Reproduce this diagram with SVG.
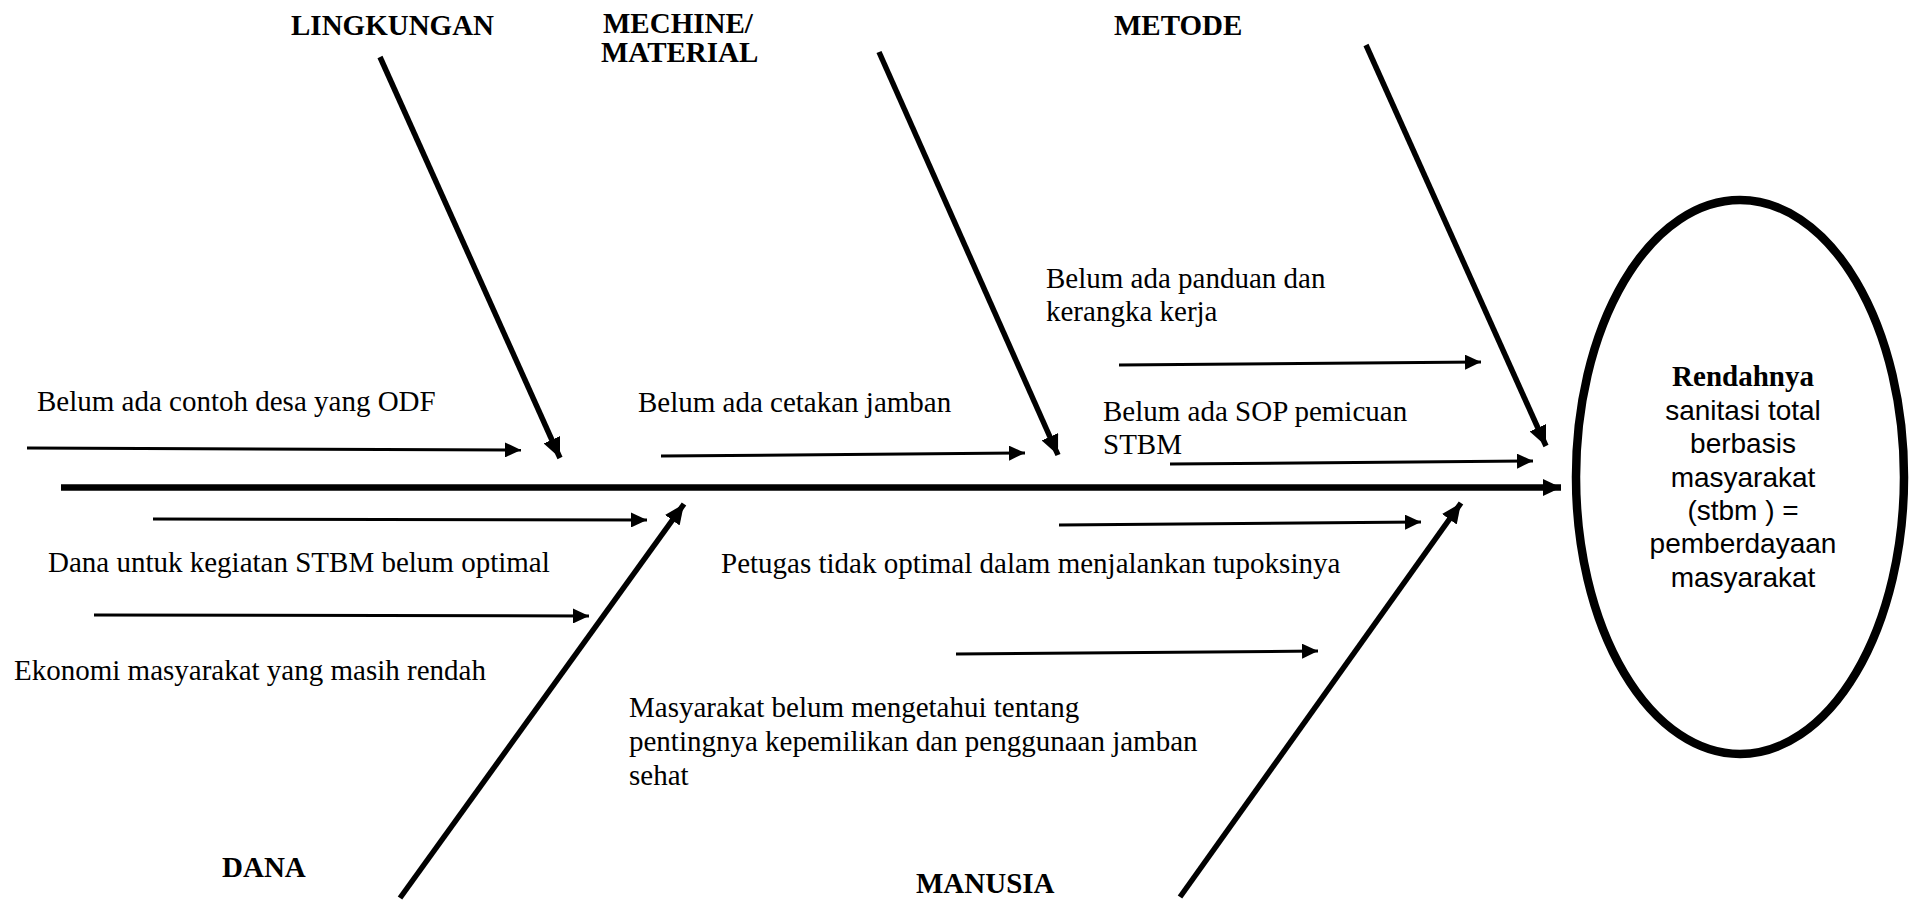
<svg xmlns="http://www.w3.org/2000/svg" width="1910" height="900" viewBox="0 0 1910 900">
  <style>
    .cat { font-family: "Liberation Serif", "Times New Roman", serif; font-weight: bold; font-size: 29px; fill: #000; }
    .cause { font-family: "Liberation Serif", "Times New Roman", serif; font-size: 29px; fill: #000; }
    .head-b { font-family: "Liberation Serif", "Times New Roman", serif; font-weight: bold; font-size: 29px; fill: #000; }
    .head-t { font-family: "Liberation Sans", Arial, sans-serif; font-size: 28px; fill: #000; }
    .spine { stroke: #000; stroke-width: 6.5; fill: none; }
    .bone { stroke: #000; stroke-width: 5.5; fill: none; }
    .twig { stroke: #000; stroke-width: 3; fill: none; }
  </style>
  <defs>
    <marker id="arrowSpine" markerUnits="userSpaceOnUse" markerWidth="18" markerHeight="17" refX="18" refY="8.5" orient="auto">
      <path d="M0,0 L18,8.5 L0,17 z" fill="#000"/>
    </marker>
    <marker id="arrowBone" markerUnits="userSpaceOnUse" markerWidth="20" markerHeight="18" refX="20" refY="9" orient="auto">
      <path d="M0,0 L20,9 L0,18 z" fill="#000"/>
    </marker>
    <marker id="arrowTwig" markerUnits="userSpaceOnUse" markerWidth="16" markerHeight="15" refX="16" refY="7.5" orient="auto">
      <path d="M0,0 L16,7.5 L0,15 z" fill="#000"/>
    </marker>
  </defs>

  <rect width="1910" height="900" fill="#fff"/>

  <!-- connectors: spine, category bones and cause arrows -->
  <g id="connectors">
    <line class="spine" x1="61" y1="487.5" x2="1561" y2="487.5" marker-end="url(#arrowSpine)"/>

    <line class="bone" x1="380" y1="57" x2="560" y2="458" marker-end="url(#arrowBone)"/>
    <line class="bone" x1="879" y1="52" x2="1058" y2="455" marker-end="url(#arrowBone)"/>
    <line class="bone" x1="1366" y1="45" x2="1546" y2="446" marker-end="url(#arrowBone)"/>
    <line class="bone" x1="400" y1="898" x2="684" y2="504" marker-end="url(#arrowBone)"/>
    <line class="bone" x1="1180" y1="897" x2="1461" y2="503" marker-end="url(#arrowBone)"/>

    <line class="twig" x1="27" y1="448" x2="521" y2="450" marker-end="url(#arrowTwig)"/>
    <line class="twig" x1="661" y1="456" x2="1025" y2="453" marker-end="url(#arrowTwig)"/>
    <line class="twig" x1="1119" y1="365" x2="1481" y2="362" marker-end="url(#arrowTwig)"/>
    <line class="twig" x1="1170" y1="464" x2="1533" y2="461" marker-end="url(#arrowTwig)"/>
    <line class="twig" x1="153" y1="519" x2="647" y2="520" marker-end="url(#arrowTwig)"/>
    <line class="twig" x1="94" y1="615" x2="589" y2="616" marker-end="url(#arrowTwig)"/>
    <line class="twig" x1="1059" y1="525" x2="1421" y2="522" marker-end="url(#arrowTwig)"/>
    <line class="twig" x1="956" y1="654" x2="1318" y2="651" marker-end="url(#arrowTwig)"/>
  </g>

  <!-- category labels -->
  <g id="cat-lingkungan"><text class="cat" x="291" y="35">LINGKUNGAN</text></g>
  <g id="cat-mechine">
    <text class="cat" x="603" y="33">MECHINE/</text>
    <text class="cat" x="601" y="62">MATERIAL</text>
  </g>
  <g id="cat-metode"><text class="cat" x="1114" y="35">METODE</text></g>
  <g id="cat-dana"><text class="cat" x="222" y="877">DANA</text></g>
  <g id="cat-manusia"><text class="cat" x="916" y="893">MANUSIA</text></g>

  <!-- causes -->
  <g id="cause-odf"><text class="cause" x="37" y="411">Belum ada contoh desa yang ODF</text></g>
  <g id="cause-cetakan"><text class="cause" x="638" y="412">Belum ada cetakan jamban</text></g>
  <g id="cause-panduan">
    <text class="cause" x="1046" y="288">Belum ada panduan dan</text>
    <text class="cause" x="1046" y="321">kerangka kerja</text>
  </g>
  <g id="cause-sop">
    <text class="cause" x="1103" y="421">Belum ada SOP pemicuan</text>
    <text class="cause" x="1103" y="454">STBM</text>
  </g>
  <g id="cause-dana"><text class="cause" x="48" y="572">Dana untuk kegiatan STBM belum optimal</text></g>
  <g id="cause-ekonomi"><text class="cause" x="14" y="680">Ekonomi masyarakat yang masih rendah</text></g>
  <g id="cause-petugas"><text class="cause" x="721" y="573">Petugas tidak optimal dalam menjalankan tupoksinya</text></g>
  <g id="cause-pengetahuan">
    <text class="cause" x="629" y="717">Masyarakat belum mengetahui tentang</text>
    <text class="cause" x="629" y="751">pentingnya kepemilikan dan penggunaan jamban</text>
    <text class="cause" x="629" y="785">sehat</text>
  </g>

  <!-- effect (fish head) -->
  <g id="effect">
    <ellipse cx="1740" cy="477" rx="164" ry="277" fill="#fff" stroke="#000" stroke-width="8.5"/>
    <text class="head-b" x="1743" y="386" text-anchor="middle">Rendahnya</text>
    <text class="head-t" x="1743" y="420" text-anchor="middle">sanitasi total</text>
    <text class="head-t" x="1743" y="453" text-anchor="middle">berbasis</text>
    <text class="head-t" x="1743" y="487" text-anchor="middle">masyarakat</text>
    <text class="head-t" x="1743" y="520" text-anchor="middle">(stbm ) =</text>
    <text class="head-t" x="1743" y="553" text-anchor="middle">pemberdayaan</text>
    <text class="head-t" x="1743" y="587" text-anchor="middle">masyarakat</text>
  </g>
</svg>
